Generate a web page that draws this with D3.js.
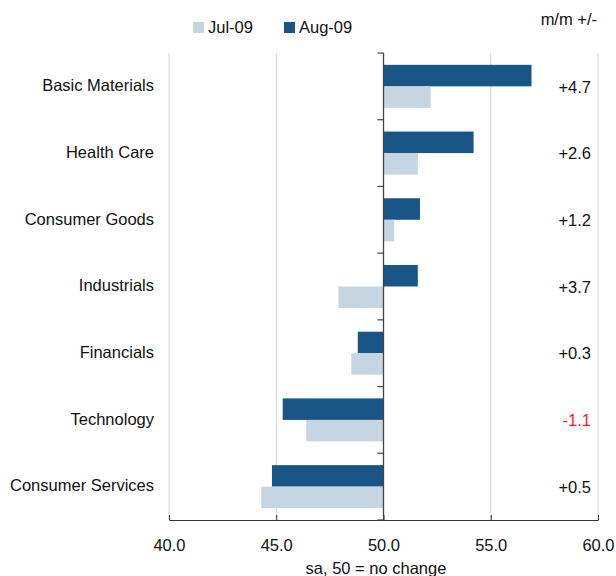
<!DOCTYPE html>
<html><head><meta charset="utf-8">
<script src="https://cdn.jsdelivr.net/npm/d3@7"></script>
<style>body{margin:0;background:#fff}svg{display:block}text{font-family:"Liberation Sans",Arial,sans-serif}</style>
</head><body><svg id="c" width="616" height="576"></svg>
<script>
const categories = ["Basic Materials","Health Care","Consumer Goods","Industrials","Financials","Technology","Consumer Services"];
const jul09 = [52.2, 51.6, 50.5, 47.9, 48.5, 46.4, 44.3];
const aug09 = [56.9, 54.2, 51.7, 51.6, 48.8, 45.3, 44.8];
const changes = ["+4.7","+2.6","+1.2","+3.7","+0.3","-1.1","+0.5"];
const xTicks = [40, 45, 50, 55, 60];
const seriesNames = ["Jul-09","Aug-09"];
const colors = {"Jul-09":"#c5d5e2","Aug-09":"#1a5587"};

(function(){
const FS = 16.5;
const svg = d3.select("#c");
const pL = 169, pR = 598, pT = 53, pB = 520;
const x = d3.scaleLinear().domain([40,60]).range([pL,pR]);
const y = d3.scaleBand().domain(categories).range([pT,pB]);
const inner = d3.scaleBand().domain(["Aug-09","Jul-09"]).range([0, y.bandwidth()]).paddingOuter(0.55).paddingInner(0);

// gridlines
svg.append("g").selectAll("line").data(xTicks.filter(d=>d!==50)).join("line")
  .attr("x1",d=>x(d)).attr("x2",d=>x(d)).attr("y1",pT).attr("y2",pB)
  .attr("stroke","#d4d4d4").attr("stroke-width",1);

// bars
const rows = categories.map((c,i)=>({c, jul:jul09[i], aug:aug09[i], ch:changes[i]}));
const g = svg.append("g");
rows.forEach(r=>{
  [["Aug-09",r.aug],["Jul-09",r.jul]].forEach(([s,v])=>{
    g.append("rect")
      .attr("x", x(Math.min(v,50))).attr("width", Math.abs(x(v)-x(50)))
      .attr("y", y(r.c)+inner(s)).attr("height", inner.bandwidth())
      .attr("fill", colors[s]);
  });
});

// x axis
const xa = svg.append("g").attr("transform",`translate(0,${pB})`)
  .call(d3.axisBottom(x).tickValues(xTicks).tickFormat(d3.format(".1f")).tickSize(5).tickSizeOuter(0));
xa.select(".domain").attr("stroke","#333");
xa.selectAll(".tick line").attr("stroke","#333").attr("y1",-5).attr("y2",0);
xa.selectAll("text").attr("font-size",FS).attr("fill","#111").attr("y",19).attr("dy","0.71em")
  .attr("font-family","Liberation Sans, Arial, sans-serif");

// y axis at 50
const boundaries = categories.map(c=>y(c)).concat([pB]);
svg.append("line").attr("x1",x(50)).attr("x2",x(50)).attr("y1",pT).attr("y2",pB).attr("stroke","#444").attr("stroke-width",1.3);
svg.append("g").selectAll("line").data(boundaries).join("line")
  .attr("x1",x(50)-6).attr("x2",x(50)).attr("y1",d=>d).attr("y2",d=>d).attr("stroke","#444").attr("stroke-width",1.2);

// category labels
svg.append("g").selectAll("text").data(categories).join("text")
  .attr("x",154).attr("y",d=>y(d)+y.bandwidth()/2-1).attr("dy","0.35em")
  .attr("text-anchor","end").attr("font-size",FS).attr("fill","#111").text(d=>d);

// change labels
svg.append("g").selectAll("text").data(rows).join("text")
  .attr("x",591).attr("y",d=>y(d.c)+y.bandwidth()/2+0.5).attr("dy","0.35em")
  .attr("text-anchor","end").attr("font-size",FS)
  .attr("fill",d=>d.ch.startsWith("-")?"#ff1a1a":"#111").text(d=>d.ch);

svg.append("text").attr("x",597).attr("y",25).attr("text-anchor","end").attr("font-size",FS).attr("fill","#111").text("m/m +/-");

// legend
const lx = [193, 284];
seriesNames.forEach((s,i)=>{
  svg.append("rect").attr("x",lx[i]).attr("y",22).attr("width",11).attr("height",11).attr("fill",colors[s]);
  svg.append("text").attr("x",lx[i]+15).attr("y",33).attr("font-size",FS).attr("fill","#111").text(s);
});

// x label
svg.append("text").attr("x",376).attr("y",574).attr("text-anchor","middle").attr("font-size",FS).attr("fill","#111").text("sa, 50 = no change");
})();
</script></body></html>
